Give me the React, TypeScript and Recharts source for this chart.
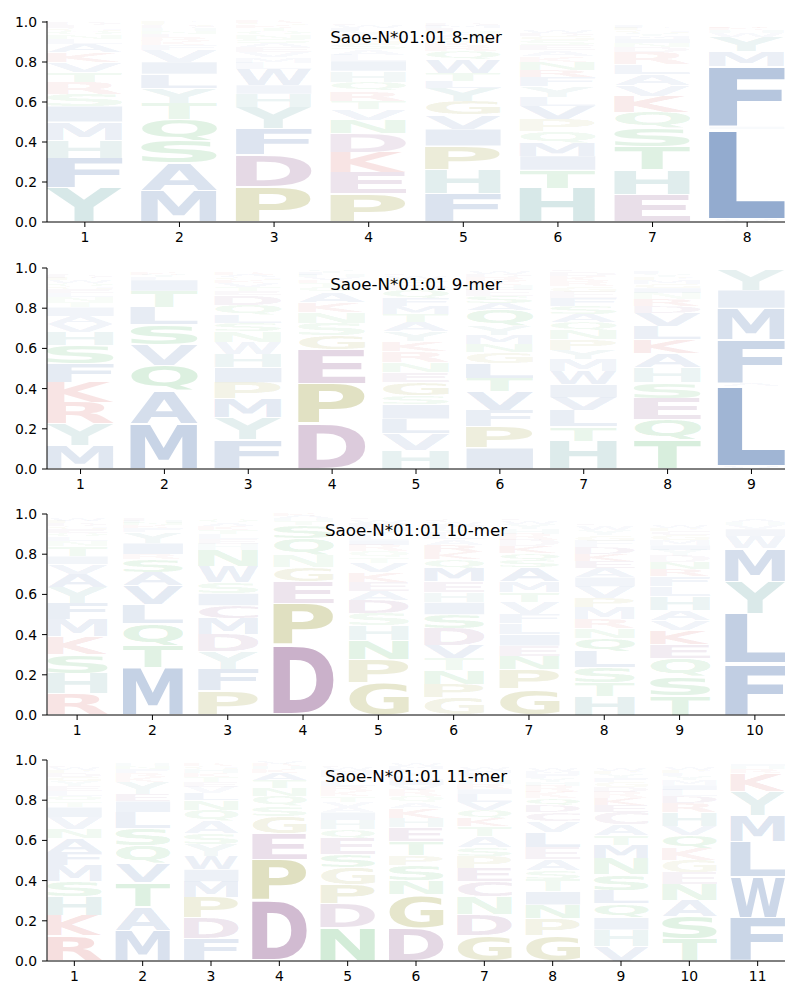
import { BarChart, Bar, XAxis, YAxis } from "recharts";

const mer8: [string, number][][] = [
  [["Y", 0.17], ["F", 0.15], ["H", 0.09], ["M", 0.09], ["I", 0.08], ["S", 0.06], ["R", 0.06], ["T", 0.05], ["V", 0.05], ["K", 0.05], ["A", 0.04], ["L", 0.025], ["N", 0.02], ["Q", 0.02], ["G", 0.015], ["E", 0.015], ["D", 0.015]],
  [["M", 0.155], ["A", 0.14], ["S", 0.11], ["Q", 0.11], ["T", 0.08], ["Y", 0.075], ["L", 0.07], ["I", 0.06], ["V", 0.06], ["F", 0.025], ["K", 0.02], ["R", 0.02], ["E", 0.015], ["N", 0.015], ["H", 0.015], ["D", 0.01], ["G", 0.01], ["P", 0.01]],
  [["P", 0.175], ["D", 0.16], ["F", 0.13], ["Y", 0.11], ["H", 0.065], ["I", 0.045], ["W", 0.08], ["L", 0.03], ["M", 0.03], ["V", 0.025], ["E", 0.025], ["A", 0.02], ["S", 0.02], ["N", 0.02], ["Q", 0.02], ["T", 0.015], ["K", 0.015], ["G", 0.01], ["R", 0.01]],
  [["P", 0.14], ["E", 0.11], ["K", 0.1], ["D", 0.095], ["N", 0.065], ["V", 0.055], ["T", 0.04], ["R", 0.05], ["Q", 0.045], ["H", 0.055], ["I", 0.05], ["L", 0.03], ["A", 0.03], ["S", 0.025], ["G", 0.025], ["M", 0.02], ["Y", 0.02], ["F", 0.015], ["W", 0.01], ["C", 0.01]],
  [["F", 0.14], ["H", 0.12], ["P", 0.12], ["I", 0.085], ["V", 0.07], ["G", 0.07], ["Y", 0.065], ["L", 0.035], ["T", 0.04], ["W", 0.07], ["Q", 0.04], ["R", 0.025], ["K", 0.02], ["S", 0.02], ["A", 0.02], ["N", 0.015], ["E", 0.015], ["M", 0.01], ["D", 0.01]],
  [["H", 0.17], ["T", 0.09], ["I", 0.07], ["M", 0.065], ["Q", 0.06], ["P", 0.06], ["V", 0.065], ["L", 0.045], ["Y", 0.055], ["F", 0.045], ["R", 0.035], ["N", 0.04], ["K", 0.03], ["A", 0.03], ["E", 0.025], ["S", 0.025], ["G", 0.02], ["D", 0.015], ["W", 0.01]],
  [["E", 0.135], ["H", 0.125], ["T", 0.115], ["S", 0.095], ["Q", 0.08], ["K", 0.08], ["V", 0.055], ["A", 0.055], ["L", 0.05], ["R", 0.06], ["D", 0.025], ["N", 0.02], ["I", 0.02], ["M", 0.015], ["Y", 0.015], ["G", 0.015], ["P", 0.01], ["F", 0.01]],
  [["V", 0.01], ["L", 0.455], ["I", 0.012], ["F", 0.3], ["M", 0.075], ["Y", 0.075], ["W", 0.02], ["H", 0.015], ["K", 0.01], ["R", 0.008]],
];

const mer9: [string, number][][] = [
  [["M", 0.115], ["Y", 0.11], ["R", 0.105], ["K", 0.1], ["F", 0.095], ["S", 0.09], ["H", 0.065], ["V", 0.04], ["A", 0.04], ["I", 0.045], ["T", 0.025], ["N", 0.025], ["L", 0.02], ["E", 0.02], ["G", 0.015], ["Q", 0.015], ["W", 0.015], ["P", 0.01], ["D", 0.01], ["C", 0.01]],
  [["M", 0.225], ["A", 0.165], ["Q", 0.125], ["V", 0.105], ["S", 0.1], ["L", 0.085], ["T", 0.08], ["I", 0.055], ["F", 0.015], ["Y", 0.012], ["K", 0.01]],
  [["F", 0.145], ["Y", 0.11], ["M", 0.095], ["P", 0.08], ["I", 0.075], ["H", 0.065], ["W", 0.06], ["N", 0.055], ["S", 0.04], ["L", 0.04], ["Q", 0.05], ["D", 0.05], ["E", 0.02], ["T", 0.02], ["V", 0.02], ["K", 0.015], ["G", 0.015], ["A", 0.01], ["R", 0.01]],
  [["D", 0.225], ["P", 0.2], ["E", 0.17], ["G", 0.07], ["S", 0.06], ["N", 0.055], ["K", 0.05], ["A", 0.05], ["Q", 0.025], ["T", 0.02], ["R", 0.015], ["V", 0.015], ["H", 0.01], ["L", 0.01], ["Y", 0.01]],
  [["H", 0.095], ["V", 0.08], ["L", 0.075], ["I", 0.07], ["S", 0.045], ["G", 0.065], ["E", 0.05], ["N", 0.05], ["R", 0.055], ["K", 0.05], ["Y", 0.05], ["A", 0.045], ["T", 0.04], ["M", 0.04], ["F", 0.04], ["Q", 0.04], ["D", 0.025], ["P", 0.03], ["W", 0.015], ["C", 0.01]],
  [["I", 0.105], ["P", 0.105], ["F", 0.08], ["V", 0.095], ["T", 0.065], ["L", 0.075], ["G", 0.055], ["N", 0.04], ["M", 0.045], ["Y", 0.045], ["Q", 0.08], ["A", 0.035], ["S", 0.035], ["E", 0.03], ["H", 0.025], ["K", 0.02], ["R", 0.02], ["D", 0.015], ["W", 0.01]],
  [["H", 0.14], ["T", 0.07], ["L", 0.08], ["V", 0.065], ["I", 0.065], ["W", 0.065], ["M", 0.06], ["Y", 0.045], ["P", 0.055], ["N", 0.045], ["Q", 0.04], ["A", 0.04], ["S", 0.04], ["F", 0.04], ["E", 0.03], ["G", 0.03], ["R", 0.025], ["K", 0.025], ["D", 0.02], ["C", 0.01]],
  [["T", 0.145], ["Q", 0.1], ["E", 0.105], ["S", 0.08], ["H", 0.075], ["A", 0.07], ["K", 0.07], ["L", 0.065], ["V", 0.065], ["D", 0.035], ["R", 0.035], ["N", 0.03], ["I", 0.025], ["G", 0.02], ["M", 0.02], ["P", 0.015], ["Y", 0.015], ["F", 0.01]],
  [["V", 0.01], ["L", 0.4], ["A", 0.012], ["F", 0.215], ["C", 0.008], ["M", 0.155], ["I", 0.09], ["Y", 0.1]],
];

const mer10: [string, number][][] = [
  [["R", 0.105], ["H", 0.1], ["S", 0.095], ["K", 0.09], ["M", 0.085], ["F", 0.08], ["Y", 0.08], ["A", 0.065], ["V", 0.05], ["I", 0.04], ["T", 0.05], ["N", 0.025], ["L", 0.02], ["Q", 0.02], ["E", 0.02], ["G", 0.015], ["D", 0.015], ["P", 0.01], ["W", 0.01]],
  [["M", 0.235], ["T", 0.11], ["Q", 0.11], ["L", 0.095], ["V", 0.095], ["A", 0.065], ["S", 0.065], ["R", 0.025], ["I", 0.055], ["Y", 0.055], ["F", 0.02], ["K", 0.015], ["N", 0.01], ["H", 0.01], ["E", 0.01]],
  [["P", 0.12], ["F", 0.105], ["Y", 0.09], ["D", 0.085], ["M", 0.08], ["C", 0.065], ["I", 0.06], ["S", 0.055], ["W", 0.08], ["N", 0.08], ["H", 0.03], ["E", 0.025], ["L", 0.025], ["T", 0.02], ["K", 0.02], ["A", 0.015], ["Q", 0.015]],
  [["D", 0.35], ["P", 0.205], ["E", 0.11], ["G", 0.07], ["N", 0.06], ["Q", 0.085], ["S", 0.065], ["T", 0.02], ["H", 0.015], ["A", 0.01], ["K", 0.01]],
  [["G", 0.16], ["P", 0.115], ["N", 0.095], ["H", 0.075], ["S", 0.06], ["D", 0.065], ["A", 0.045], ["E", 0.045], ["K", 0.05], ["V", 0.045], ["T", 0.03], ["Q", 0.03], ["R", 0.03], ["I", 0.025], ["L", 0.025], ["Y", 0.02], ["M", 0.02], ["F", 0.02], ["W", 0.015], ["C", 0.01]],
  [["G", 0.085], ["P", 0.065], ["N", 0.07], ["T", 0.06], ["V", 0.065], ["D", 0.085], ["S", 0.07], ["I", 0.06], ["H", 0.05], ["E", 0.055], ["M", 0.065], ["Q", 0.045], ["K", 0.035], ["R", 0.035], ["A", 0.03], ["L", 0.03], ["Y", 0.02], ["F", 0.02], ["W", 0.015], ["C", 0.015]],
  [["G", 0.13], ["P", 0.095], ["N", 0.065], ["E", 0.055], ["I", 0.055], ["L", 0.055], ["F", 0.045], ["V", 0.06], ["T", 0.05], ["M", 0.055], ["A", 0.07], ["S", 0.035], ["Q", 0.035], ["K", 0.035], ["D", 0.03], ["R", 0.03], ["H", 0.025], ["Y", 0.025], ["W", 0.015], ["C", 0.01]],
  [["H", 0.095], ["T", 0.065], ["S", 0.075], ["L", 0.08], ["Q", 0.065], ["N", 0.05], ["R", 0.045], ["M", 0.06], ["P", 0.045], ["V", 0.06], ["I", 0.045], ["A", 0.045], ["E", 0.035], ["K", 0.035], ["D", 0.035], ["F", 0.03], ["G", 0.03], ["Y", 0.025], ["W", 0.02], ["C", 0.01]],
  [["T", 0.095], ["S", 0.095], ["Q", 0.09], ["E", 0.07], ["K", 0.07], ["V", 0.05], ["A", 0.05], ["H", 0.07], ["L", 0.05], ["F", 0.05], ["R", 0.035], ["N", 0.035], ["D", 0.03], ["Y", 0.03], ["I", 0.025], ["M", 0.025], ["G", 0.025], ["C", 0.02], ["P", 0.015], ["W", 0.01]],
  [["F", 0.255], ["L", 0.25], ["Y", 0.16], ["M", 0.165], ["W", 0.06], ["I", 0.035], ["V", 0.02], ["H", 0.015], ["A", 0.01]],
];

const mer11: [string, number][][] = [
  [["R", 0.125], ["K", 0.1], ["H", 0.095], ["S", 0.075], ["M", 0.08], ["F", 0.065], ["A", 0.07], ["N", 0.045], ["V", 0.06], ["I", 0.05], ["T", 0.03], ["Q", 0.025], ["L", 0.025], ["E", 0.025], ["Y", 0.025], ["G", 0.02], ["D", 0.02], ["P", 0.015], ["W", 0.01], ["C", 0.01]],
  [["M", 0.15], ["A", 0.12], ["T", 0.12], ["V", 0.095], ["Q", 0.09], ["S", 0.085], ["L", 0.08], ["I", 0.055], ["E", 0.035], ["Y", 0.06], ["K", 0.025], ["R", 0.02], ["F", 0.02], ["N", 0.015], ["H", 0.01]],
  [["F", 0.11], ["D", 0.105], ["P", 0.1], ["M", 0.08], ["I", 0.06], ["W", 0.065], ["Y", 0.06], ["S", 0.055], ["A", 0.06], ["Q", 0.055], ["N", 0.05], ["L", 0.035], ["V", 0.03], ["E", 0.025], ["T", 0.025], ["K", 0.02], ["H", 0.02], ["G", 0.015], ["R", 0.01]],
  [["D", 0.3], ["P", 0.205], ["E", 0.13], ["G", 0.085], ["S", 0.05], ["Q", 0.05], ["N", 0.04], ["T", 0.04], ["A", 0.035], ["K", 0.02], ["H", 0.015], ["R", 0.01], ["V", 0.01]],
  [["N", 0.165], ["D", 0.12], ["P", 0.095], ["G", 0.085], ["S", 0.065], ["E", 0.08], ["Q", 0.045], ["H", 0.045], ["I", 0.04], ["A", 0.025], ["V", 0.025], ["T", 0.03], ["K", 0.025], ["R", 0.025], ["L", 0.025], ["Y", 0.02], ["F", 0.02], ["M", 0.015], ["W", 0.01], ["C", 0.01]],
  [["D", 0.165], ["G", 0.165], ["N", 0.07], ["S", 0.075], ["P", 0.05], ["T", 0.07], ["E", 0.07], ["H", 0.045], ["K", 0.05], ["A", 0.03], ["Q", 0.03], ["R", 0.03], ["V", 0.025], ["I", 0.025], ["L", 0.02], ["Y", 0.02], ["F", 0.015], ["M", 0.015], ["W", 0.01]],
  [["G", 0.125], ["D", 0.105], ["N", 0.09], ["C", 0.075], ["E", 0.065], ["P", 0.06], ["S", 0.045], ["A", 0.055], ["T", 0.05], ["K", 0.04], ["Q", 0.04], ["V", 0.04], ["L", 0.04], ["I", 0.025], ["R", 0.025], ["H", 0.02], ["Y", 0.02], ["F", 0.015], ["M", 0.015], ["W", 0.01]],
  [["G", 0.125], ["P", 0.085], ["N", 0.07], ["I", 0.065], ["T", 0.06], ["S", 0.045], ["A", 0.055], ["E", 0.06], ["L", 0.075], ["V", 0.055], ["C", 0.045], ["D", 0.035], ["Q", 0.035], ["K", 0.03], ["R", 0.03], ["H", 0.02], ["Y", 0.02], ["F", 0.02], ["M", 0.015], ["W", 0.01]],
  [["V", 0.075], ["H", 0.08], ["I", 0.06], ["Q", 0.07], ["L", 0.065], ["S", 0.08], ["N", 0.08], ["M", 0.065], ["T", 0.05], ["A", 0.055], ["C", 0.06], ["E", 0.035], ["K", 0.035], ["R", 0.03], ["D", 0.025], ["G", 0.025], ["F", 0.02], ["Y", 0.02], ["P", 0.015], ["W", 0.01]],
  [["T", 0.11], ["S", 0.11], ["A", 0.08], ["N", 0.08], ["E", 0.06], ["G", 0.06], ["K", 0.06], ["Q", 0.065], ["V", 0.045], ["H", 0.07], ["R", 0.045], ["D", 0.035], ["L", 0.03], ["I", 0.025], ["M", 0.025], ["Y", 0.02], ["F", 0.015], ["P", 0.015], ["W", 0.01]],
  [["F", 0.215], ["W", 0.205], ["L", 0.175], ["M", 0.13], ["Y", 0.12], ["K", 0.09], ["R", 0.02], ["H", 0.015], ["I", 0.01]],
];

const logos = [mer8, mer9, mer10, mer11];
const titles = ["Saoe-N*01:01 8-mer", "Saoe-N*01:01 9-mer", "Saoe-N*01:01 10-mer", "Saoe-N*01:01 11-mer"];
const yTicks = [0, 0.2, 0.4, 0.6, 0.8, 1.0];

const groupColor: Record<string, string> = {
  A: "#2c5aa0", V: "#2c5aa0", L: "#2c5aa0", I: "#2c5aa0", M: "#2c5aa0", F: "#2c5aa0", W: "#2c5aa0",
  H: "#3c8c8c", Y: "#3c8c8c",
  D: "#7a3a7a", E: "#7a3a7a", C: "#7a3a7a",
  P: "#808000", G: "#808000",
  K: "#c83232", R: "#c83232",
  S: "#22a03c", T: "#22a03c", N: "#22a03c", Q: "#22a03c",
};

const FONT = "DejaVu Sans";
const PANEL_TOPS = [0, 247, 493, 739];
const PLOT_W = 738;

// ink bounds of each glyph, so a letter can be stretched to fill its box
const inkCache: Record<string, { l: number; r: number; t: number; b: number }> = {};
function inkBox(ch: string) {
  if (!inkCache[ch]) {
    const ctx = document.createElement("canvas").getContext("2d")!;
    ctx.font = `bold 100px "${FONT}"`;
    const m = ctx.measureText(ch);
    inkCache[ch] = {
      l: -m.actualBoundingBoxLeft,
      r: m.actualBoundingBoxRight,
      t: -m.actualBoundingBoxAscent,
      b: m.actualBoundingBoxDescent,
    };
  }
  return inkCache[ch];
}

const makeGlyph = (slot: number) => (props: any) => {
  const { x, y, width, height, payload } = props;
  const letter = payload?.[`l${slot}`];
  const value = payload?.[`v${slot}`];
  if (!letter || !(height > 0.3)) return <g />;
  const m = inkBox(letter);
  const pad = height * 0.025;
  const h = height - 2 * pad;
  const sx = width / (m.r - m.l);
  const sy = h / (m.b - m.t);
  const alpha = Math.min(0.9, 0.02 + 1.08 * value);
  return (
    <text
      transform={`translate(${x},${y + pad}) scale(${sx},${sy}) translate(${-m.l},${-m.t})`}
      fontFamily={FONT}
      fontWeight="bold"
      fontSize={100}
      fill={groupColor[letter] ?? "#888"}
      fillOpacity={alpha}
    >
      {letter}
    </text>
  );
};

function LogoPanel({ stacks, top, title }: { stacks: [string, number][][]; top: number; title: string }) {
  const n = stacks.length;
  const positions = stacks.map((_, i) => i + 1);
  const rows = stacks.map((stack, i) => {
    const row: Record<string, any> = { pos: i + 1 };
    stack.forEach(([l, v], j) => {
      row[`l${j}`] = l;
      row[`v${j}`] = v;
    });
    return row;
  });
  const slots = Math.max(...stacks.map((s) => s.length));
  const unit = PLOT_W / (n - 0.2);
  const tickStyle = { fill: "#000", fontSize: 13.9, fontFamily: FONT };

  return (
    <div style={{ position: "absolute", left: 0, top, width: 800, height: 246 }}>
      <BarChart width={800} height={246} data={rows} margin={{ top: 21, right: 15, bottom: 0, left: 0 }}>
        <XAxis
          type="number"
          dataKey="pos"
          domain={[0.6, n + 0.4]}
          ticks={positions}
          interval={0}
          allowDataOverflow
          height={24}
          tickSize={5}
          tickMargin={5}
          stroke="#000"
          tick={tickStyle}
        />
        <YAxis
          type="number"
          domain={[0, 1]}
          ticks={yTicks}
          interval={0}
          width={47}
          tickSize={5}
          tickMargin={5}
          stroke="#000"
          tick={tickStyle}
          tickFormatter={(v: number) => v.toFixed(1)}
        />
        {Array.from({ length: slots }, (_, j) => (
          <Bar
            key={j}
            dataKey={`v${j}`}
            stackId="logo"
            barSize={unit * 0.8}
            isAnimationActive={false}
            shape={makeGlyph(j)}
          />
        ))}
      </BarChart>
      <svg width={800} height={246} style={{ position: "absolute", left: 0, top: 0, pointerEvents: "none" }}>
        <text x={416} y={42.5} textAnchor="middle" fontFamily={FONT} fontSize={16.7} fill="#000">
          {title}
        </text>
      </svg>
    </div>
  );
}

export default function App() {
  return (
    <div style={{ position: "absolute", left: 0, top: 0, width: 800, height: 1000, background: "#fff", fontFamily: FONT }}>
      {logos.map((stacks, i) => (
        <LogoPanel key={i} stacks={stacks} top={PANEL_TOPS[i]} title={titles[i]} />
      ))}
    </div>
  );
}
